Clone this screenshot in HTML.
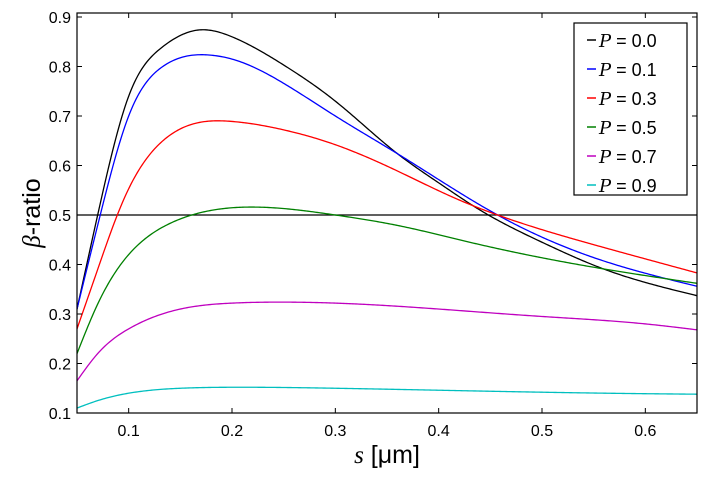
<!DOCTYPE html>
<html><head><meta charset="utf-8"><style>
body{margin:0;background:#fff;}
svg{display:block;font-family:"Liberation Sans","DejaVu Sans",sans-serif;}
</style></head><body>
<svg id="chart" width="707" height="481"></svg>
<script>
const xTicks=[0.1,0.2,0.3,0.4,0.5,0.6];
const yTicks=[0.1,0.2,0.3,0.4,0.5,0.6,0.7,0.8,0.9];
const seriesLabels=["0.0","0.1","0.3","0.5","0.7","0.9"];
const seriesColors=["#000000","#0000ff","#ff0000","#008000","#bf00bf","#00bfbf"];
const xs0=[0.05,0.07,0.10,0.13,0.169,0.20,0.25,0.30,0.36,0.40,0.44,0.50,0.557,0.65];
const ys0=[0.31,0.50,0.74,0.835,0.874,0.86,0.803,0.73,0.624,0.565,0.51,0.445,0.393,0.337];
const xs1=[0.05,0.0725,0.10,0.131,0.179,0.20,0.25,0.30,0.36,0.457,0.557,0.65];
const ys1=[0.31,0.50,0.70,0.797,0.823,0.815,0.766,0.70,0.624,0.50,0.409,0.356];
const xs2=[0.05,0.07,0.089,0.10,0.131,0.20,0.25,0.30,0.36,0.418,0.457,0.557,0.65];
const ys2=[0.27,0.39,0.50,0.553,0.646,0.689,0.672,0.642,0.589,0.532,0.50,0.436,0.383];
const xs3=[0.05,0.07,0.10,0.137,0.17,0.222,0.30,0.36,0.43,0.557,0.65];
const ys3=[0.22,0.32,0.42,0.48,0.505,0.516,0.50,0.479,0.445,0.392,0.362];
const xs4=[0.05,0.07,0.10,0.15,0.20,0.25,0.30,0.40,0.50,0.60,0.65];
const ys4=[0.165,0.22,0.27,0.31,0.322,0.324,0.322,0.31,0.295,0.28,0.268];
const xs5=[0.05,0.07,0.10,0.15,0.20,0.30,0.40,0.50,0.60,0.65];
const ys5=[0.11,0.125,0.14,0.15,0.152,0.15,0.146,0.142,0.139,0.138];
const refLine=0.5;
const allX=[xs0,xs1,xs2,xs3,xs4,xs5], allY=[ys0,ys1,ys2,ys3,ys4,ys5];

const L=77,R=697,T=13,B=413;
const xMin=0.05,xMax=0.65,yMin=0.1;
const sx=v=>L+(v-xMin)/(xMax-xMin)*(R-L);
const sy=v=>B-(v-yMin)/(0.9-yMin)*(B-17);
const NS="http://www.w3.org/2000/svg";
const svg=document.getElementById('chart');
function mk(tag,attrs,parent){const e=document.createElementNS(NS,tag);for(const k in attrs)e.setAttribute(k,attrs[k]);(parent||svg).appendChild(e);return e;}

const clip=mk('clipPath',{id:'pc'});mk('rect',{x:L,y:T,width:R-L,height:B-T},clip);

const rl=mk('line',{x1:L,x2:R,y1:sy(refLine),y2:sy(refLine),stroke:'#000','stroke-width':1.2});



function spline(x,y){const n=x.length,h=[],m=new Array(n).fill(0);
 for(let i=0;i<n-1;i++)h[i]=x[i+1]-x[i];
 const al=[0],be=[0];
 for(let i=1;i<n-1;i++){const A=h[i-1],Bq=2*(h[i-1]+h[i]),C=h[i],D=6*((y[i+1]-y[i])/h[i]-(y[i]-y[i-1])/h[i-1]);
  const den=Bq-A*al[i-1];al[i]=C/den;be[i]=(D-A*be[i-1])/den;}
 for(let i=n-2;i>0;i--)m[i]=be[i]-al[i]*m[i+1];
 return t=>{let i=0;while(i<n-2&&t>x[i+1])i++;const u=t-x[i],hh=h[i];
  const b=(y[i+1]-y[i])/hh-hh*(2*m[i]+m[i+1])/6;
  return y[i]+b*u+m[i]/2*u*u+(m[i+1]-m[i])/(6*hh)*u*u*u;};}
for(let s=0;s<allX.length;s++){
 const f=spline(allX[s],allY[s]);const xa=allX[s];let d='';
 const x0=xa[0],x1=xa[xa.length-1];
 for(let k=0;k<=400;k++){const t=x0+(x1-x0)*k/400;d+=(k?'L':'M')+sx(t).toFixed(2)+','+sy(f(t)).toFixed(2);}
 const p=mk('path',{d:d,fill:'none',stroke:seriesColors[s],'stroke-width':1.3,'clip-path':'url(#pc)'});
 
 
}
const fr=mk('rect',{x:L,y:T,width:R-L,height:B-T,fill:'none',stroke:'#000','stroke-width':1.2});


xTicks.forEach(v=>{const x=sx(v);
 mk('line',{x1:x,x2:x,y1:B,y2:B-5,stroke:'#000'});mk('line',{x1:x,x2:x,y1:T,y2:T+5,stroke:'#000'});
 const t=mk('text',{x:x,y:B+23,'text-anchor':'middle','font-size':16});t.textContent=v.toFixed(1);
 
 
});
yTicks.forEach(v=>{const y=sy(v);
 mk('line',{x1:L,x2:L+5,y1:y,y2:y,stroke:'#000'});mk('line',{x1:R,x2:R-5,y1:y,y2:y,stroke:'#000'});
 const t=mk('text',{x:L-6,y:y+6,'text-anchor':'end','font-size':16});t.textContent=v.toFixed(1);
 
 
});
const xl=mk('text',{x:(L+R)/2,y:463,'text-anchor':'middle','font-size':25});
xl.innerHTML='<tspan font-family="Liberation Serif,serif" font-style="italic">s</tspan> [μm]';


const yl=mk('text',{x:0,y:0,'text-anchor':'middle','font-size':25,transform:`translate(40,${(T+B)/2}) rotate(-90)`});
yl.innerHTML='<tspan font-family="Liberation Serif,serif" font-style="italic">β</tspan>-ratio';


const lg=mk('g',{});


mk('rect',{x:574,y:23,width:113,height:172,fill:'#fff',stroke:'#000','stroke-width':1.2},lg);
seriesLabels.forEach((lab,i)=>{const y=40+i*29;
 const e=mk('g',{},lg);
 
 
 mk('line',{x1:587,x2:596,y1:y,y2:y,stroke:seriesColors[i],'stroke-width':1.5},e);
 const t=mk('text',{x:599,y:y+7,'font-size':18},e);
 t.innerHTML='<tspan font-family="DejaVu Serif,serif" font-style="italic">P</tspan> = '+lab;
});
</script>
</body></html>
